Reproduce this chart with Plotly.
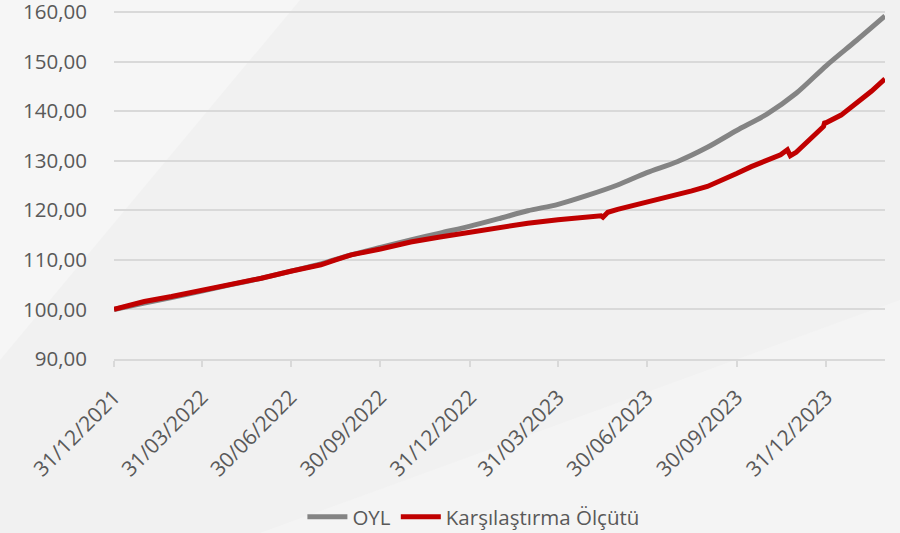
import plotly.graph_objects as go

# ---- data ----
oyl_dates = ["2021-12-31", "2022-01-31", "2022-02-28", "2022-03-31", "2022-04-30", "2022-05-31",
             "2022-06-30", "2022-07-31", "2022-08-31", "2022-09-30", "2022-10-31", "2022-11-30",
             "2022-12-31", "2023-01-31", "2023-02-28", "2023-03-31", "2023-04-30", "2023-05-31",
             "2023-06-30", "2023-07-31", "2023-08-31", "2023-09-30", "2023-10-31", "2023-11-30",
             "2023-12-31", "2024-01-31", "2024-02-29"]
oyl_values = [100.0, 101.3, 102.4, 103.7, 105.0, 106.3,
              107.7, 109.2, 111.0, 112.5, 114.0, 115.4,
              116.8, 118.4, 119.9, 121.2, 123.0, 125.1,
              127.6, 129.8, 132.7, 136.1, 139.4, 143.6,
              149.2, 154.3, 159.2]

bm_dates = ["2021-12-31", "2022-01-15", "2022-01-31", "2022-02-28", "2022-03-31", "2022-04-30",
            "2022-05-31", "2022-06-30", "2022-07-15", "2022-07-31", "2022-08-15", "2022-08-31",
            "2022-09-30", "2022-10-31", "2022-11-30", "2022-12-31", "2023-01-31", "2023-02-28",
            "2023-03-31", "2023-04-30", "2023-05-14", "2023-05-16", "2023-05-21", "2023-05-31",
            "2023-06-15", "2023-06-30", "2023-07-15", "2023-07-31", "2023-08-15", "2023-08-31",
            "2023-09-15", "2023-09-30", "2023-10-15", "2023-10-31", "2023-11-14", "2023-11-21",
            "2023-11-24", "2023-11-30", "2023-12-15", "2023-12-28", "2023-12-29", "2023-12-31",
            "2024-01-15", "2024-01-31", "2024-02-15", "2024-02-29"]
bm_values = [100.0, 100.9, 101.6, 102.6, 103.8, 105.1,
             106.3, 107.7, 108.3, 109.0, 110.0, 111.0,
             112.2, 113.6, 114.6, 115.6, 116.6, 117.4,
             118.1, 118.6, 118.9, 118.6, 119.6, 120.2,
             120.9, 121.6, 122.4, 123.2, 123.9, 124.8,
             126.0, 127.4, 128.8, 130.1, 131.2, 132.2,
             131.0, 131.7, 134.5, 136.9, 137.6, 137.7,
             139.2, 141.6, 144.0, 146.5]

tick_dates = ["2021-12-31", "2022-03-31", "2022-06-30", "2022-09-30", "2022-12-31",
              "2023-03-31", "2023-06-30", "2023-09-30", "2023-12-31"]
tick_labels = ["31/12/2021", "31/03/2022", "30/06/2022", "30/09/2022", "31/12/2022",
               "31/03/2023", "30/06/2023", "30/09/2023", "31/12/2023"]
y_ticks = [90, 100, 110, 120, 130, 140, 150, 160]

series_names = ["OYL", "Karşılaştırma Ölçütü"]
series_colors = ["#848484", "#C00000"]

# ---- figure ----
W, H = 900, 533
L, R, T, B = 114, 15, 10, 174
pw, ph = W - L - R, H - T - B


def px(x):
    return (x - L) / pw


def py(y):
    return (H - B - y) / ph


fig = go.Figure()
fig.add_trace(go.Scatter(x=oyl_dates, y=oyl_values, mode="lines", name=series_names[0],
                         line=dict(color=series_colors[0], width=5, shape="spline", smoothing=0.8)))
fig.add_trace(go.Scatter(x=bm_dates, y=bm_values, mode="lines", name=series_names[1],
                         line=dict(color=series_colors[1], width=5)))

font_family = "Open Sans, DejaVu Sans, sans-serif"
text_color = "#595959"

shapes = [
    dict(type="path", xref="paper", yref="paper", layer="below",
         path=f"M {px(0)},{py(0)} L {px(300)},{py(0)} L {px(0)},{py(360)} Z",
         fillcolor="#f6f6f6", line=dict(width=0)),
    dict(type="path", xref="paper", yref="paper", layer="below",
         path=f"M {px(260)},{py(533)} L {px(900)},{py(300)} L {px(900)},{py(533)} Z",
         fillcolor="#f4f4f4", line=dict(width=0)),
]

fig.update_layout(
    width=W, height=H,
    margin=dict(l=L, r=R, t=T, b=B, pad=0, autoexpand=False),
    paper_bgcolor="#f1f1f1",
    plot_bgcolor="rgba(0,0,0,0)",
    separators=",.",
    font=dict(family=font_family, size=20, color=text_color),
    showlegend=True,
    legend=dict(orientation="h", x=0.526, xanchor="center", xref="container",
                y=0.03, yanchor="middle", yref="container",
                font=dict(size=20.5, color=text_color), bgcolor="rgba(0,0,0,0)",
                itemwidth=40, tracegroupgap=0),
    shapes=shapes,
    xaxis=dict(type="date", range=["2021-12-31", "2024-02-29"],
               tickvals=tick_dates, ticktext=tick_labels, tickangle=-45,
               showgrid=False, showline=True, linecolor="#d9d9d9", linewidth=1.5,
               ticks="outside", ticklen=6, tickcolor="#d9d9d9", tickwidth=1.5,
               ticklabelstandoff=10, automargin=False,
               tickfont=dict(size=21, color=text_color), zeroline=False),
    yaxis=dict(range=[90, 160.4], tickvals=y_ticks, tickformat=".2f",
               showgrid=True, gridcolor="#d9d9d9", gridwidth=1.5,
               showline=False, zeroline=False,
               ticks="outside", ticklen=22, tickcolor="rgba(0,0,0,0)",
               automargin=False, ticklabeloverflow="allow",
               tickfont=dict(size=20.5, color=text_color)),
)

fig.write_html("out.html", post_script="document.body.style.margin='0';",
               config={"displayModeBar": False})
